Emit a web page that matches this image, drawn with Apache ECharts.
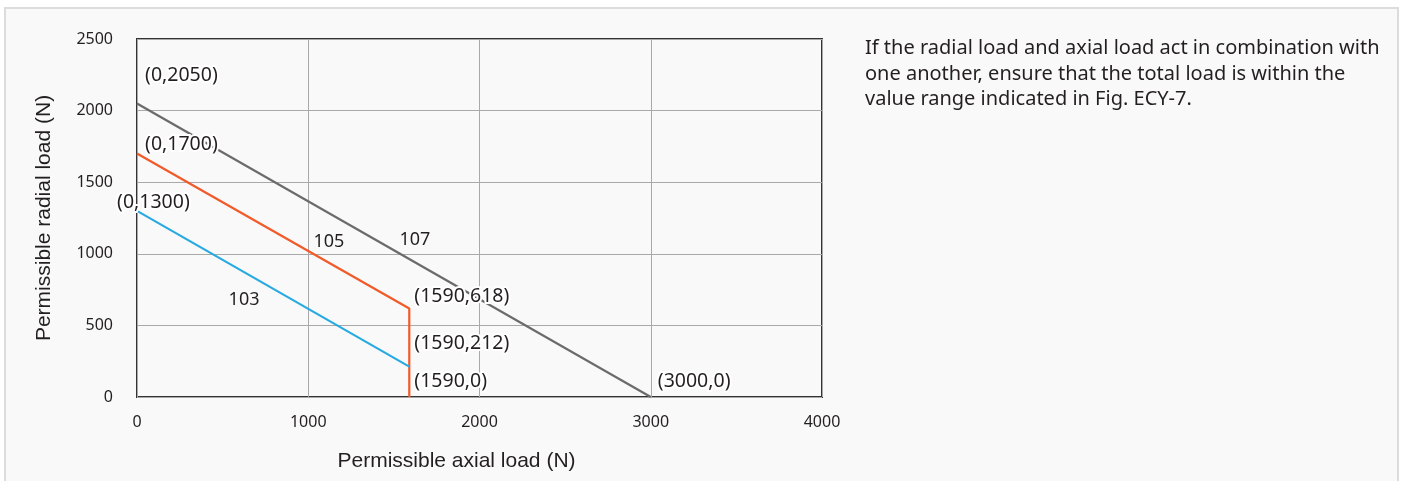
<!DOCTYPE html>
<html>
<head>
<meta charset="utf-8">
<script src="https://cdn.jsdelivr.net/npm/echarts@6/dist/echarts.min.js"></script>
<style>
  html, body { margin: 0; padding: 0; background: #ffffff; }
  #box { position: absolute; left: 4px; top: 7px; width: 1391px; height: 500px;
         border: 2px solid #dcdcdc; background: #f9f9f9; }
  #chart { position: absolute; left: 0; top: 0; width: 1405px; height: 481px; }
</style>
</head>
<body>
<div id="box"></div>
<div id="chart"></div>
<script>
// ---- data ----
const xTicks = [0, 1000, 2000, 3000, 4000];
const yTicks = [0, 500, 1000, 1500, 2000, 2500];
const series107 = [[0, 2050], [3000, 0]];
const series105 = [[0, 1700], [1590, 618], [1590, 0]];
const series103 = [[0, 1300], [1590, 212]];
const seriesNames = ['103', '105', '107'];
const noteText = 'If the radial load and axial load act in combination with\none another, ensure that the total load is within the\nvalue range indicated in Fig. ECY-7.';

const TXT = '#231f20';
const annFont = { fontFamily: 'Noto Sans', fontSize: 19.5, color: TXT,
  textBorderColor: '#ffffff', textBorderWidth: 4 };

function pt(p, offset) {
  return { value: p, label: Object.assign({ show: true, position: 'right', distance: 0,
    offset: offset, formatter: '(' + p[0] + ',' + p[1] + ')' }, annFont) };
}
function nameMark(name, coord) {
  return { symbol: 'circle', symbolSize: 0, silent: true,
    label: { show: true, position: 'inside', formatter: name,
      fontFamily: 'Noto Sans', fontSize: 18, color: TXT },
    data: [{ coord: coord }] };
}

const chart = echarts.init(document.getElementById('chart'), null, { renderer: 'canvas' });
chart.setOption({
  backgroundColor: 'transparent',
  animation: false,
  title: {
    text: noteText, left: 860, top: 31,
    textStyle: { fontFamily: 'Noto Sans', fontSize: 20, fontWeight: 'normal',
      color: TXT, lineHeight: 25.5 }
  },
  grid: { left: 137, top: 39, right: 583, bottom: 84, show: true,
    borderColor: '#333333', borderWidth: 2, backgroundColor: 'transparent' },
  xAxis: {
    type: 'value', min: xTicks[0], max: xTicks[xTicks.length - 1], interval: 1000,
    name: 'Permissible axial load (N)', nameLocation: 'middle', nameGap: 54,
    nameTextStyle: { fontFamily: 'Liberation Sans', fontSize: 21, color: TXT, padding: [0, 46, 0, 0] },
    axisLine: { show: false }, axisTick: { show: false },
    axisLabel: { margin: 17, fontFamily: 'Noto Sans', fontSize: 16, color: TXT,
      formatter: function (v) { return String(v); } },
    splitLine: { show: true, lineStyle: { color: '#a9a9a9', width: 1 } }
  },
  yAxis: {
    type: 'value', min: yTicks[0], max: yTicks[yTicks.length - 1], interval: 500,
    name: 'Permissible radial load (N)', nameLocation: 'middle', nameGap: 82, nameRotate: 90,
    nameTextStyle: { fontFamily: 'Liberation Sans', fontSize: 21, color: TXT },
    axisLine: { show: false }, axisTick: { show: false },
    axisLabel: { margin: 24, fontFamily: 'Noto Sans', fontSize: 16, color: TXT,
      formatter: function (v) { return String(v); } },
    splitLine: { show: true, lineStyle: { color: '#a9a9a9', width: 1 } }
  },
  series: [
    { name: '107', type: 'line', z: 2, symbol: 'circle', symbolSize: 0.1, showSymbol: true,
      lineStyle: { color: '#6b6b6b', width: 2.2 }, itemStyle: { color: '#6b6b6b' },
      data: [pt(series107[0], [8, -28]), pt(series107[1], [7, -16])],
      markPoint: nameMark(seriesNames[2], [1623, 1096]) },
    { name: '105', type: 'line', z: 3, symbol: 'circle', symbolSize: 0.1, showSymbol: true,
      lineStyle: { color: '#f15a29', width: 2.2 }, itemStyle: { color: '#f15a29' },
      data: [pt(series105[0], [8, -9]), pt(series105[1], [5, -12]), pt(series105[2], [5, -16])],
      markPoint: nameMark(seriesNames[1], [1121, 1082]) },
    { name: '103', type: 'line', z: 4, symbol: 'circle', symbolSize: 0.1, showSymbol: true,
      lineStyle: { color: '#27aae1', width: 2.2 }, itemStyle: { color: '#27aae1' },
      data: [pt(series103[0], [-20, -8]), pt(series103[1], [5, -23])],
      markPoint: nameMark(seriesNames[0], [625, 677]) }
  ]
});
</script>
</body>
</html>
